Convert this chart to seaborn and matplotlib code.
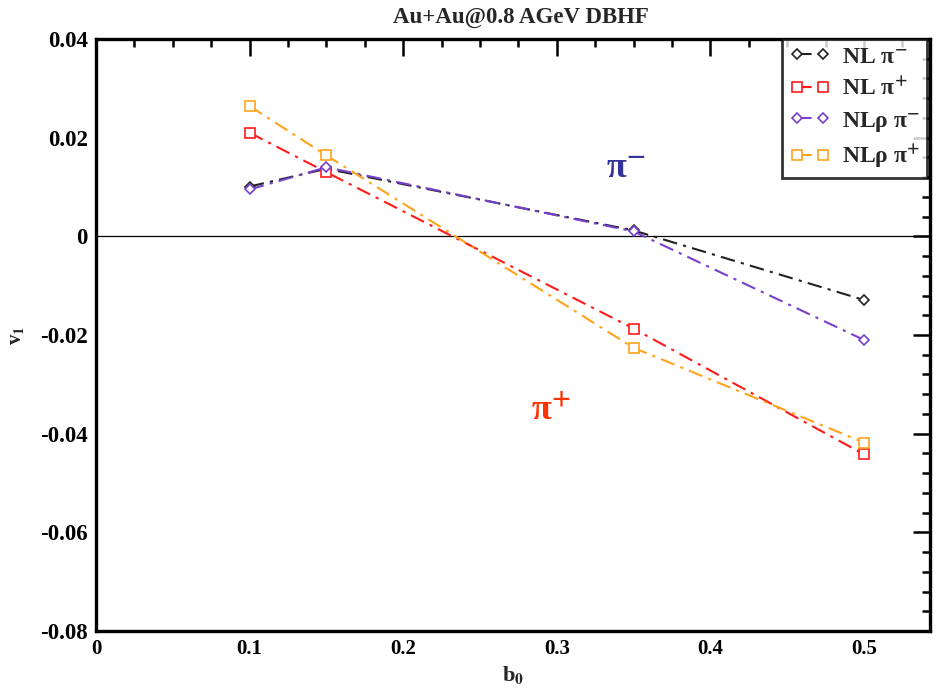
import matplotlib
matplotlib.use("Agg")
import matplotlib.pyplot as plt
import seaborn as sns
import pandas as pd
from matplotlib.ticker import MultipleLocator

b0 = [0.1, 0.15, 0.35, 0.5]
nl_pim = [0.0101, 0.0137, 0.0012, -0.0129]
nl_pip = [0.0210, 0.0130, -0.0187, -0.0442]
nlr_pim = [0.0095, 0.0140, 0.0010, -0.0210]
nlr_pip = [0.0264, 0.0164, -0.0226, -0.0418]

labels = ["NL π$^{-}$", "NL π$^{+}$", "NLρ π$^{-}$", "NLρ π$^{+}$"]
series = [nl_pim, nl_pip, nlr_pim, nlr_pip]
colors = ["#222222", "#ff1a1a", "#7840cc", "#ffa31a"]
markers = ["D", "s", "D", "s"]
msizes = [5, 6.5, 5, 6.5]
xticks = [0, 0.1, 0.2, 0.3, 0.4, 0.5]
xticklabels = ["0", "0.1", "0.2", "0.3", "0.4", "0.5"]
yticks = [-0.08, -0.06, -0.04, -0.02, 0, 0.02, 0.04]
yticklabels = ["-0.08", "-0.06", "-0.04", "-0.02", "0", "0.02", "0.04"]

sns.set_theme(style="white")
plt.rcParams["font.family"] = ["Liberation Serif", "DejaVu Serif"]
plt.rcParams["font.weight"] = "bold"
plt.rcParams["mathtext.fontset"] = "stix"
plt.rcParams["mathtext.default"] = "bf"

fig = plt.figure(figsize=(9.36, 6.92), dpi=100)
ax = fig.add_axes([0.1026, 0.0882, 0.8910, 0.8554])

ax.axhline(0, color="black", lw=0.9, zorder=1)

for vals, lab, c, m, ms in zip(series, labels, colors, markers, msizes):
    df = pd.DataFrame({"b0": b0, "v1": vals})
    sns.lineplot(data=df, x="b0", y="v1", ax=ax, color=c, lw=1.5,
                 marker=m, markersize=ms, markerfacecolor="white",
                 markeredgecolor=c, markeredgewidth=1.2, label=lab,
                 linestyle=(0, (7, 3, 1.5, 3)))

ax.set_xlim(0, 0.543)
ax.set_ylim(-0.08, 0.04)
ax.xaxis.set_minor_locator(MultipleLocator(0.025))
ax.yaxis.set_minor_locator(MultipleLocator(0.004))
ax.set_xticks(xticks)
ax.set_xticklabels(xticklabels)
ax.set_yticks(yticks)
ax.set_yticklabels(yticklabels)
ax.tick_params(which="both", direction="in", top=True, right=True, width=1.8,
               colors="black", pad=6)
ax.tick_params(axis="x", labelsize=15)
ax.tick_params(axis="y", labelsize=16.5)
ax.tick_params(which="major", length=12)
ax.tick_params(which="minor", length=6)
for lab in ax.get_xticklabels() + ax.get_yticklabels():
    lab.set_fontweight("bold")
for s in ax.spines.values():
    s.set_linewidth(2.4)
    s.set_color("black")

ax.set_xlabel("b$_{0}$", fontsize=16, fontweight="bold", labelpad=4)
ax.set_ylabel("v$_{1}$", fontsize=15, fontweight="bold", labelpad=10)
fig.text(0.557, 1 - 17 / 692, "Au+Au@0.8 AGeV DBHF", fontsize=16.5,
         fontweight="bold", ha="center", va="center")

ax.text(0.345, 0.0135, "π$^{-}$", color="#333399", fontsize=26,
        ha="center", va="center")
ax.text(0.296, -0.0355, "π$^{+}$", color="#ff3300", fontsize=26,
        ha="center", va="center")

leg = ax.legend(loc="upper right", bbox_to_anchor=(0.996, 1.0), frameon=True,
                fancybox=False, edgecolor="black", fontsize=17, borderpad=0.3,
                handlelength=1.7, labelspacing=0.4, borderaxespad=0,
                numpoints=2, handletextpad=0.5)
leg.get_frame().set_linewidth(2)
for t in leg.get_texts():
    t.set_fontweight("bold")

fig.savefig("out.png", dpi=100)
